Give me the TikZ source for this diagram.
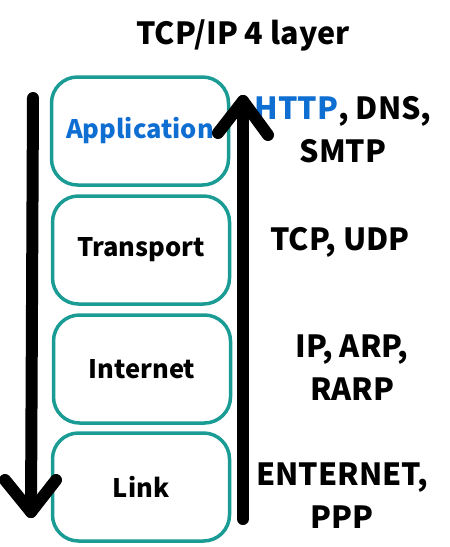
\documentclass[tikz,border=0pt]{standalone}
\usepackage{fontspec}
\setmainfont{Noto Sans CJK KR}
\usepackage{tikz}
\tikzset{>=latex}
\definecolor{layerteal}{HTML}{1A9C95}
\definecolor{protoblue}{HTML}{0F6ED2}
\tikzset{
	layerbox/.style={draw=layerteal,line width=3.5pt,rounded corners=26pt,minimum width=177pt,minimum height=108pt,font=\fontsize{25.5}{30}\selectfont\bfseries},
	protolabel/.style={align=center,font=\fontsize{30.5}{43}\selectfont\bfseries},
	flowline/.style={line width=12pt,line cap=round,line join=round}
}

\begin{document}
\begin{tikzpicture}[x=1pt,y=-1pt]
	\useasboundingbox (0,0) rectangle (450,547);
	\node [protolabel] (title) at (243,35) {TCP/IP 4 layer};

	\node [layerbox,text=protoblue] (app) at (140,131) {Application};
	\node [layerbox] (trans) at (141,250) {Transport};
	\node [layerbox] (inet) at (142,369) {Internet};
	\node [layerbox] (link) at (141,487) {Link};

	\node [protolabel] (appproto) at (343,130) {\textcolor{protoblue}{HTTP}, DNS,\\SMTP};
	\node [protolabel] (transproto) at (340,242) {TCP, UDP};
	\node [protolabel] (inetproto) at (352,368) {IP, ARP,\\RARP};
	\node [protolabel] (linkproto) at (342,496) {ENTERNET,\\PPP};

	\coordinate (downtop) at (33,98);
	\coordinate (downtip) at (31,512);
	\coordinate (uptop) at (243,101);
	\coordinate (upbottom) at (243,519);
	\draw [flowline] (downtop) -- (downtip);
	\draw [flowline] (5,480) -- (downtip) -- (56,480);
	\draw [flowline] (upbottom) -- (uptop);
	\draw [flowline] (218,133) -- (uptop) -- (268,135);
\end{tikzpicture}
\end{document}
